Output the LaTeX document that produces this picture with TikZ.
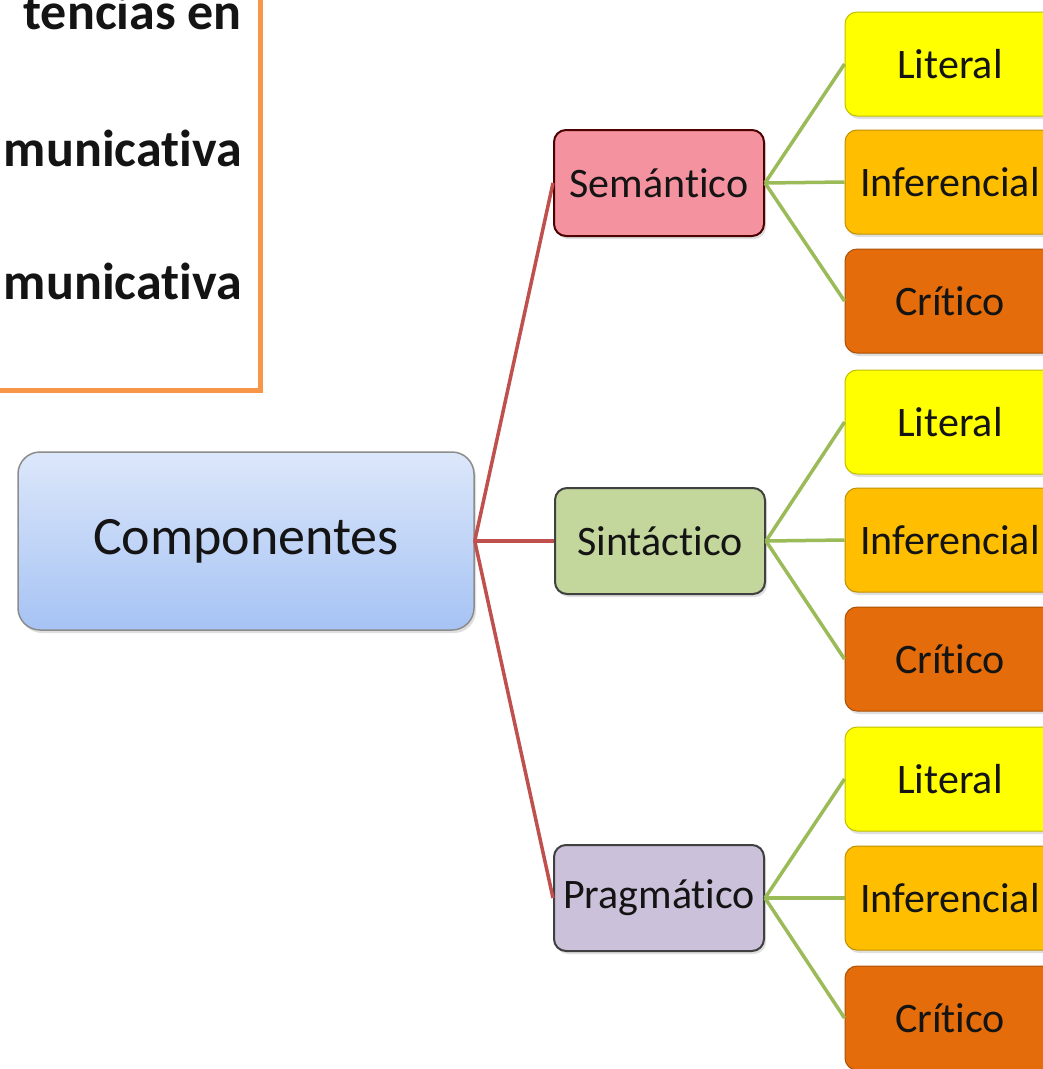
\documentclass[tikz,border=0pt]{standalone}
\usepackage{fontspec}
\setmainfont{Carlito}[Ligatures={NoCommon,NoRequired,NoContextual}, RawFeature={-liga;-clig;-calt;-dlig}]
\usetikzlibrary{shadows}
\newcommand{\tI}{t\kern0pt i}
\definecolor{pinkf}{HTML}{F4929F}
\definecolor{greenf}{HTML}{C3D69B}
\definecolor{lavf}{HTML}{CCC1DA}
\definecolor{litf}{HTML}{FFFF00}
\definecolor{inff}{HTML}{FFBF00}
\definecolor{crif}{HTML}{E46C0A}
\definecolor{redl}{HTML}{C0504D}
\definecolor{greenl}{HTML}{9BBB59}
\definecolor{comptop}{HTML}{DCE7FA}
\definecolor{compbot}{HTML}{A6C3F4}
\definecolor{orangeb}{HTML}{F79646}
\definecolor{txt}{HTML}{141414}
\tikzset{
  boxbase/.style={rounded corners=12pt, inner sep=0pt, text=txt,
    drop shadow={opacity=0.25, shadow xshift=2pt, shadow yshift=-3pt}},
  midbox/.style={boxbase, minimum width=210pt, minimum height=106pt,
    draw=black!75, line width=2pt, font=\fontsize{42}{50}\selectfont},
  leafbox/.style={boxbase, minimum width=210pt, minimum height=104pt,
    line width=1pt, font=\fontsize{42}{50}\selectfont},
  lit/.style={leafbox, fill=litf, draw=litf!75!black},
  inf/.style={leafbox, fill=inff, draw=inff!75!black},
  cri/.style={leafbox, fill=crif, draw=crif!75!black},
  redcon/.style={draw=redl, line width=3.5pt},
  greencon/.style={draw=greenl, line width=3.5pt},
  boldline/.style={anchor=base east, inner sep=0pt, text=txt,
    font=\fontsize{52}{60}\selectfont\bfseries}
}
\begin{document}
\begin{tikzpicture}[x=1pt, y=-1pt]
\useasboundingbox (0,0) rectangle (1043,1069);
\clip (0,0) rectangle (1043,1069);
\fill[white] (0,0) rectangle (1043,1069);
% orange framed text box (cropped)
\draw[orangeb, line width=5pt] (-30,-30) rectangle (260,390);
\node[boldline] (t1) at (242,29) {tencias en};
\node[boldline] (t2) at (242,166) {munica\tI va};
\node[boldline] (t3) at (242,299) {munica\tI va};
% main node
\node[boxbase, rounded corners=22pt, minimum width=456pt, minimum height=178pt,
  top color=comptop, bottom color=compbot, draw=black!45, line width=1.5pt,
  font=\fontsize{54}{64}\selectfont] (comp) at (246,541) {Componentes};
% middle nodes
\node[midbox, fill=pinkf, draw=black!70!red] (sem) at (659,183) {Semán\tI co};
\node[midbox, fill=greenf] (sin) at (660,541) {Sintác\tI co};
\node[midbox, fill=lavf] (pra) at (659,898) {Pragmá\tI co};
% leaves
\node[lit] (l1) at (950,64) {Literal};
\node[inf] (i1) at (950,182) {Inferencial};
\node[cri] (c1) at (950,301) {Crí\tI co};
\node[lit] (l2) at (950,422) {Literal};
\node[inf] (i2) at (950,540) {Inferencial};
\node[cri] (c2) at (950,659) {Crí\tI co};
\node[lit] (l3) at (950,779) {Literal};
\node[inf] (i3) at (950,898) {Inferencial};
\node[cri] (c3) at (950,1018) {Crí\tI co};
% connectors
\draw[redcon] (comp.east) -- (sem.west);
\draw[redcon] (comp.east) -- (sin.west);
\draw[redcon] (comp.east) -- (pra.west);
\foreach \m/\a/\b/\c in {sem/l1/i1/c1, sin/l2/i2/c2, pra/l3/i3/c3}{
  \draw[greencon] (\m.east) -- (\a.west);
  \draw[greencon] (\m.east) -- (\b.west);
  \draw[greencon] (\m.east) -- (\c.west);
}
\end{tikzpicture}
\end{document}
